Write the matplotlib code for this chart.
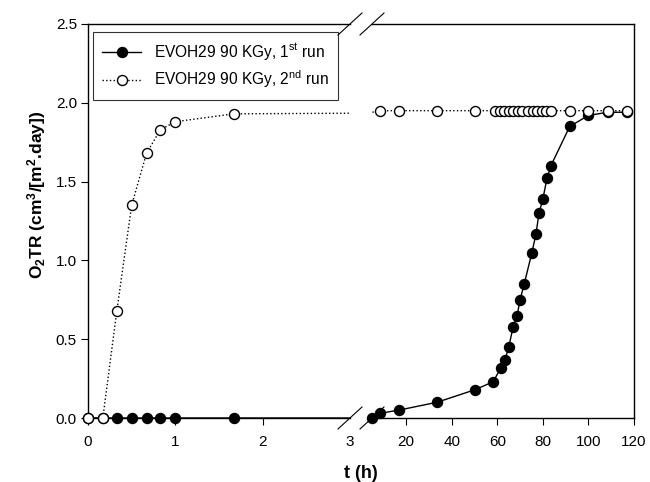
import numpy as np
import matplotlib
matplotlib.use("Agg")
import matplotlib.pyplot as plt
from matplotlib.lines import Line2D

plt.rcParams['font.family'] = ['Liberation Sans', 'DejaVu Sans']
plt.rcParams['mathtext.default'] = 'regular'

# 1st run (filled circles)
t_run1 = [0, 0.17, 0.33, 0.5, 0.67, 0.83, 1.0, 1.67, 5, 8.6, 16.8, 33.6, 50.3, 58.2,
          61.6, 63.4, 65.0, 67.0, 68.7, 70.0, 71.8, 75.2, 77.0, 78.3, 80.0, 81.8, 83.5,
          91.8, 100, 108.6, 117]
o2tr_run1 = [0, 0, 0, 0, 0, 0, 0, 0, 0, 0.03, 0.05, 0.10, 0.18, 0.23,
             0.32, 0.37, 0.45, 0.58, 0.65, 0.75, 0.85, 1.05, 1.17, 1.30, 1.39, 1.52, 1.60,
             1.85, 1.92, 1.94, 1.94]

# 2nd run (open circles)
t_run2 = [0, 0.17, 0.33, 0.5, 0.67, 0.83, 1.0, 1.67, 8.6, 16.8, 33.6, 50.3,
          59, 61, 63, 65, 67, 69, 71, 73.5, 75.5, 77.5, 79.5, 81.5, 83.5,
          92, 100, 108.6, 117]
o2tr_run2 = [0, 0, 0.68, 1.35, 1.68, 1.83, 1.88, 1.93, 1.95, 1.95, 1.95, 1.95,
             1.95, 1.95, 1.95, 1.95, 1.95, 1.95, 1.95, 1.95, 1.95, 1.95, 1.95, 1.95, 1.95,
             1.95, 1.95, 1.95, 1.95]

W, H = 650, 482
fig = plt.figure(figsize=(W / 100, H / 100), dpi=100)


def px(x0, y0, x1, y1):
    return [x0 / W, 1 - y1 / H, (x1 - x0) / W, (y1 - y0) / H]


ax1 = fig.add_axes(px(88, 24, 350, 418))
ax2 = fig.add_axes(px(372, 24, 634, 418))

t1 = np.array(t_run1)
t2 = np.array(t_run2)
y1 = np.array(o2tr_run1)
y2 = np.array(o2tr_run2)

for ax, (lo, hi) in [(ax1, (0, 3)), (ax2, (5, 120))]:
    ax.plot(t1, y1, '-', color='black', lw=1.0, zorder=2)
    ax.plot(t2, y2, ':', color='black', lw=1.0, zorder=3)
    m1 = (t1 >= lo) & (t1 <= hi)
    m2 = (t2 >= lo) & (t2 <= hi)
    ax.plot(t1[m1], y1[m1], 'o', color='black', ms=7.2, mec='black', clip_on=False, zorder=4)
    ax.plot(t2[m2], y2[m2], 'o', color='white', ms=7.2, mec='black', mew=1.0,
            clip_on=False, zorder=5)
    ax.set_xlim(lo, hi)
    ax.set_ylim(0, 2.5)
    ax.tick_params(direction='out', length=5, width=0.8, labelsize=11, pad=7)
    for s in ax.spines.values():
        s.set_linewidth(1.0)

ax1.spines['right'].set_visible(False)
ax2.spines['left'].set_visible(False)
ax1.set_xticks([0, 1, 2, 3])
ax1.xaxis.get_major_ticks()[-1].tick1line.set_visible(False)
ax1.set_yticks([0, 0.5, 1.0, 1.5, 2.0, 2.5])
ax1.set_yticklabels(['0.0', '0.5', '1.0', '1.5', '2.0', '2.5'])
ax1.tick_params(axis='y', pad=3)
ax2.set_xticks([20, 40, 60, 80, 100, 120])
ax2.set_yticks([])

# break marks
for xc in (350, 372):
    for yc in (24, 418):
        fig.add_artist(Line2D([(xc - 12) / W, (xc + 12) / W],
                              [1 - (yc + 11) / H, 1 - (yc - 11) / H],
                              color='black', lw=0.8))

fig.text(361 / W, 1 - 474 / H, 't (h)', ha='center', va='center',
         fontsize=13, fontweight='bold')
fig.text(37 / W, 1 - 195 / H, r'O$_2$TR (cm$^3$/[m$^2$.day])', ha='center', va='center',
         rotation=90, fontsize=12.5, fontweight='bold')

h1 = Line2D([], [], color='black', lw=1.0, marker='o', ms=7.2)
h2 = Line2D([], [], color='black', lw=1.0, ls=':', marker='o', ms=7.2, mfc='white')
leg = ax1.legend([h1, h2], [r'EVOH29 90 KGy, 1$^{st}$ run', r'EVOH29 90 KGy, 2$^{nd}$ run'],
                 loc='upper left', bbox_to_anchor=(5 / 262, 1 - 8 / 394),
                 fontsize=11.2, frameon=True, fancybox=False, edgecolor='black',
                 handlelength=2.5, handletextpad=0.8, borderaxespad=0,
                 borderpad=0.6, labelspacing=0.4)
leg.get_frame().set_linewidth(0.8)

fig.savefig('out.png', dpi=100)
